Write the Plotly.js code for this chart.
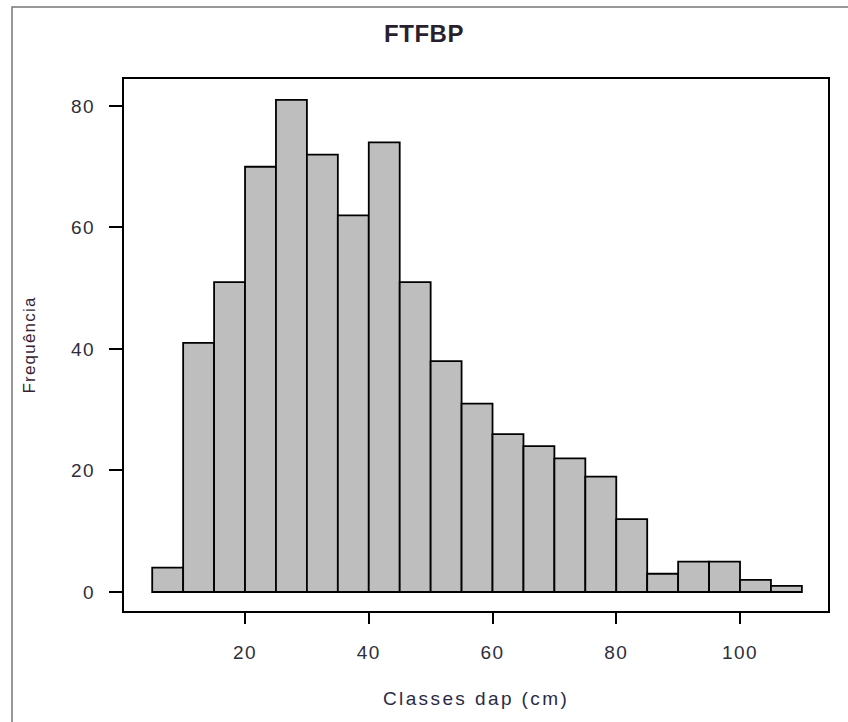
<!DOCTYPE html>
<html>
<head>
<meta charset="utf-8">
<script src="https://cdn.plot.ly/plotly-3.0.1.min.js"></script>
<style>
html, body { margin: 0; padding: 0; background: #fff; }
#chart { width: 848px; height: 722px; }
.xtick text, .ytick text { letter-spacing: 1.5px; }
.xtitle { letter-spacing: 2.4px; }
.ytitle { letter-spacing: 1.2px; }
.gtitle { letter-spacing: 0.5px; }
</style>
</head>
<body>
<div id="chart"></div>
<script>
// Histogram classes (cm): start of each 5-cm class
const binStart = [5, 10, 15, 20, 25, 30, 35, 40, 45, 50, 55, 60, 65, 70, 75, 80, 85, 90, 95, 100, 105];
const binWidth = 5;
const frequency = [4, 41, 51, 70, 81, 72, 62, 74, 51, 38, 31, 26, 24, 22, 19, 12, 3, 5, 5, 2, 1];
const xTicks = [20, 40, 60, 80, 100];
const yTicks = [0, 20, 40, 60, 80];
const chartTitle = 'FTFBP';
const xLabel = 'Classes dap (cm)';
const yLabel = 'Frequência';

const trace = {
  type: 'bar',
  x: binStart,
  y: frequency,
  width: binStart.map(() => binWidth),
  offset: 0,
  marker: { color: '#bebebe', line: { color: '#000', width: 1.8 } },
  hoverinfo: 'x+y'
};

const layout = {
  width: 848,
  height: 722,
  margin: { l: 124, r: 20, t: 79, b: 111 },
  paper_bgcolor: '#fff',
  plot_bgcolor: '#fff',
  showlegend: false,
  bargap: 0,
  font: { family: 'Liberation Sans, Arial, sans-serif', color: '#333' },
  title: {
    text: chartTitle,
    font: { size: 24, color: '#2a1f2f', weight: 'bold' },
    x: 0.5, xanchor: 'center',
    y: 1 - 34 / 722, yanchor: 'middle', yref: 'container'
  },
  xaxis: {
    range: [0.44, 114.22],
    tickvals: xTicks,
    ticktext: xTicks.map(String),
    ticks: 'outside', ticklen: 11, tickwidth: 2, tickcolor: '#000',
    ticklabelstandoff: 12,
    tickfont: { size: 19, color: '#2e2e3a' },
    showline: true, linecolor: '#000', linewidth: 2, mirror: true,
    showgrid: false, zeroline: false,
    title: { text: xLabel, font: { size: 19, color: '#2a2a44' }, standoff: 30 }
  },
  yaxis: {
    range: [-3.13, 84.44],
    tickvals: yTicks,
    ticktext: yTicks.map(String),
    ticks: 'outside', ticklen: 13, tickwidth: 2, tickcolor: '#000',
    ticklabelstandoff: 10,
    tickfont: { size: 19, color: '#2e2e3a' },
    showline: true, linecolor: '#000', linewidth: 2, mirror: true,
    showgrid: false, zeroline: false,
    title: { text: yLabel, font: { size: 17, color: '#3a1f33' }, standoff: 31 }
  },
  shapes: [{
    type: 'rect', xref: 'paper', yref: 'paper',
    x0: (12 - 124) / 704, x1: 1.3,
    y0: -0.4, y1: (611 - 7) / 532,
    line: { color: '#777', width: 1.5 }, fillcolor: 'rgba(0,0,0,0)', layer: 'below'
  }]
};

Plotly.newPlot('chart', [trace], layout, { displayModeBar: false, staticPlot: true });
</script>
</body>
</html>
